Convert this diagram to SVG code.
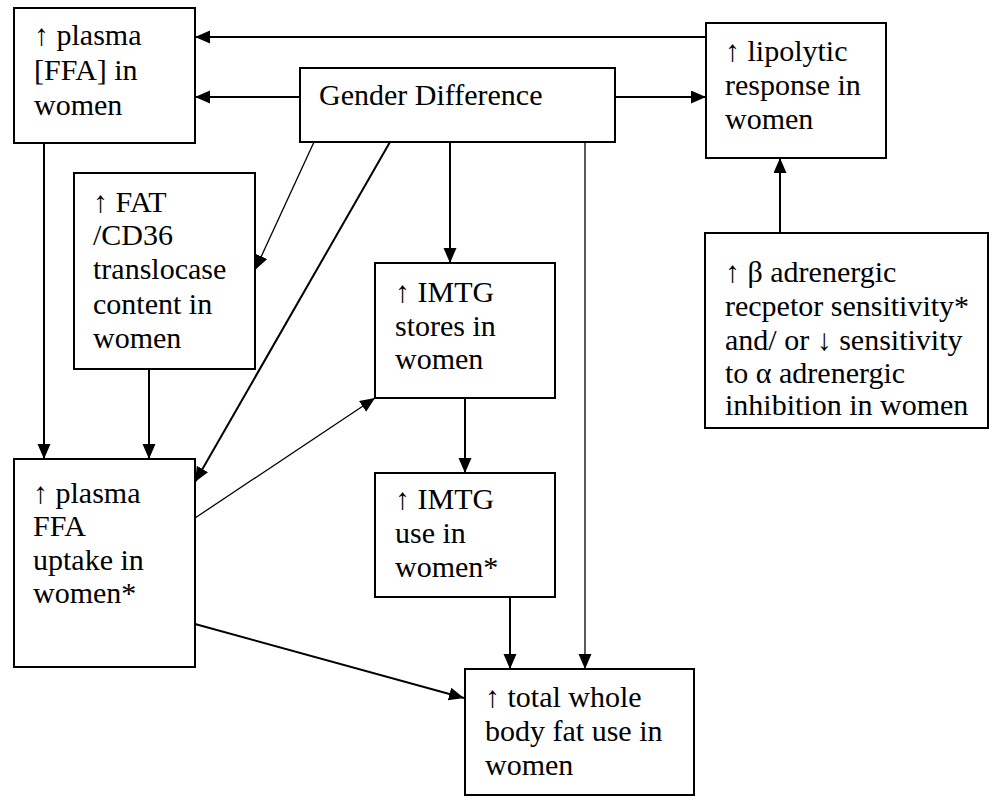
<svg xmlns="http://www.w3.org/2000/svg" width="999" height="804" viewBox="0 0 999 804">
  <defs>
    <marker id="ah" markerUnits="userSpaceOnUse" markerWidth="16" markerHeight="14" refX="15" refY="6.5" orient="auto">
      <path d="M0,0 L15,6.5 L0,13 Z" fill="#000000"/>
    </marker>
  </defs>

  <rect width="999" height="804" fill="#ffffff"/>

  <!-- connectors -->
  <g id="connectors" fill="none" stroke="#000000" stroke-width="2">
    <line x1="706" y1="37" x2="195" y2="37" marker-end="url(#ah)"/>
    <line x1="300" y1="97" x2="195" y2="97" marker-end="url(#ah)"/>
    <line x1="615" y1="97" x2="706" y2="97" marker-end="url(#ah)"/>
    <line x1="780" y1="233" x2="780" y2="158" marker-end="url(#ah)"/>
    <line x1="44" y1="143" x2="44" y2="459" marker-end="url(#ah)"/>
    <line x1="314" y1="142" x2="255" y2="270" stroke-width="1.3" marker-end="url(#ah)"/>
    <line x1="390" y1="142" x2="195" y2="482" marker-end="url(#ah)"/>
    <line x1="149" y1="369" x2="149" y2="459" marker-end="url(#ah)"/>
    <line x1="450" y1="142" x2="450" y2="263" marker-end="url(#ah)"/>
    <line x1="585" y1="142" x2="585" y2="669" stroke-width="1.3" marker-end="url(#ah)"/>
    <line x1="195" y1="518" x2="375" y2="398" stroke-width="1.3" marker-end="url(#ah)"/>
    <line x1="465" y1="398" x2="465" y2="473" marker-end="url(#ah)"/>
    <line x1="510" y1="597" x2="510" y2="669" marker-end="url(#ah)"/>
    <line x1="195" y1="624" x2="464" y2="698" marker-end="url(#ah)"/>
  </g>

  <!-- nodes -->
  <g fill="#000000" font-size="30">
    <g id="plasma-ffa">
      <rect x="14" y="8" width="181" height="135" fill="#ffffff" stroke="#000000" stroke-width="2"/>
      <text x="34" y="45" font-family="Liberation Serif">↑ plasma</text>
      <text x="34" y="80" font-family="Liberation Serif">[FFA] in</text>
      <text x="34" y="115" font-family="Liberation Serif">women</text>
    </g>

    <g id="gender-difference">
      <rect x="300" y="68" width="315" height="74" fill="#ffffff" stroke="#000000" stroke-width="2"/>
      <text x="319" y="105" font-family="Liberation Serif">Gender Difference</text>
    </g>

    <g id="lipolytic-response">
      <rect x="706" y="23" width="180" height="135" fill="#ffffff" stroke="#000000" stroke-width="2"/>
      <text x="725" y="61" font-family="Liberation Serif">↑ lipolytic</text>
      <text x="725" y="95" font-family="Liberation Serif">response in</text>
      <text x="725" y="129" font-family="Liberation Serif">women</text>
    </g>

    <g id="adrenergic-sensitivity">
      <rect x="705" y="233" width="283" height="195" fill="#ffffff" stroke="#000000" stroke-width="2"/>
      <text x="725" y="282" font-family="Liberation Serif">↑ β adrenergic</text>
      <text x="725" y="316" font-family="Liberation Serif">recpetor sensitivity*</text>
      <text x="725" y="350" font-family="Liberation Serif">and/ or ↓ sensitivity</text>
      <text x="725" y="383" font-family="Liberation Serif">to α adrenergic</text>
      <text x="725" y="415" font-family="Liberation Serif">inhibition in women</text>
    </g>

    <g id="fat-cd36">
      <rect x="74" y="173" width="181" height="196" fill="#ffffff" stroke="#000000" stroke-width="2"/>
      <text x="93" y="212" font-family="Liberation Serif">↑ FAT</text>
      <text x="93" y="245" font-family="Liberation Serif">/CD36</text>
      <text x="93" y="279" font-family="Liberation Serif">translocase</text>
      <text x="93" y="314" font-family="Liberation Serif">content in</text>
      <text x="93" y="348" font-family="Liberation Serif">women</text>
    </g>

    <g id="imtg-stores">
      <rect x="375" y="263" width="180" height="135" fill="#ffffff" stroke="#000000" stroke-width="2"/>
      <text x="395" y="302" font-family="Liberation Serif">↑ IMTG</text>
      <text x="395" y="336" font-family="Liberation Serif">stores in</text>
      <text x="395" y="369" font-family="Liberation Serif">women</text>
    </g>

    <g id="imtg-use">
      <rect x="375" y="473" width="180" height="124" fill="#ffffff" stroke="#000000" stroke-width="2"/>
      <text x="395" y="509" font-family="Liberation Serif">↑ IMTG</text>
      <text x="395" y="543" font-family="Liberation Serif">use in</text>
      <text x="395" y="577" font-family="Liberation Serif">women*</text>
    </g>

    <g id="plasma-ffa-uptake">
      <rect x="14" y="459" width="181" height="208" fill="#ffffff" stroke="#000000" stroke-width="2"/>
      <text x="33" y="503" font-family="Liberation Serif">↑ plasma</text>
      <text x="33" y="536" font-family="Liberation Serif">FFA</text>
      <text x="33" y="570" font-family="Liberation Serif">uptake in</text>
      <text x="33" y="603" font-family="Liberation Serif">women*</text>
    </g>

    <g id="total-fat-use">
      <rect x="465" y="669" width="229" height="126" fill="#ffffff" stroke="#000000" stroke-width="2"/>
      <text x="485" y="707" font-family="Liberation Serif">↑ total whole</text>
      <text x="485" y="741" font-family="Liberation Serif">body fat use in</text>
      <text x="485" y="775" font-family="Liberation Serif">women</text>
    </g>
  </g>
</svg>
